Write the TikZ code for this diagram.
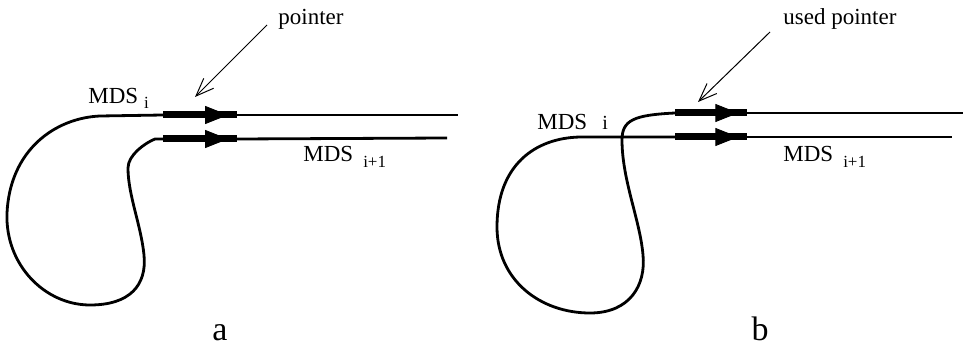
\documentclass[tikz,border=0pt]{standalone}
\usepackage{fontspec}
\setmainfont{Liberation Serif}
\usetikzlibrary{decorations.markings}
\usetikzlibrary{arrows.meta}

\newcommand{\lowsub}[2]{\raisebox{-#1}{\fontsize{8.5}{9}\selectfont #2}}

\begin{document}
\begin{tikzpicture}[x=0.5pt,y=-0.5pt,
  every node/.style={inner sep=0pt,font=\fontsize{11.5}{13}\selectfont},
  strand/.style={line width=1.4pt},
  bar/.style={line width=3.5pt,%
          decoration={%
            markings,%
            mark=at position 0.88 with {\arrow{Triangle[length=11.5pt,width=9pt,line width=0.4pt]}},%
          },%
          postaction=decorate},
  ptr/.style={line width=0.5pt,-{Straight Barb[length=9pt,width=7pt,line width=0.5pt]}},
  panel/.style={font=\fontsize{17}{19}\selectfont}]
\useasboundingbox (0,0) rectangle (967,347);

% a
\coordinate (a1s) at (163,115);
\coordinate (a1e) at (237,115);
\coordinate (a1r) at (458,115);
\coordinate (a2s) at (163,139);
\coordinate (a2e) at (237,139);
\coordinate (a2r) at (447,138);
\coordinate (pta) at (195,97);
\draw[strand] (a1s) -- (100,116)
   .. controls (55,118) and (10,150) .. (7,213)
   .. controls (5,265) and (45,305) .. (90,305)
   .. controls (130,305) and (147,285) .. (144,255)
   .. controls (141,225) and (128,195) .. (128,168)
   .. controls (128,155) and (145,143) .. (155,139) -- (a2s);
\draw[strand] (a1e) -- (a1r);
\draw[strand] (a2e) -- (a2r);
\path[draw,bar] (a1s) -- (a1e);
\path[draw,bar] (a2s) -- (a2e);
\node[anchor=base west] (pa) at (278,25) {pointer};
\draw[ptr] ([xshift=-5.5pt]pa.base west) -- (pta);
\node[anchor=base west] (mia) at (88,104) {MDS \lowsub{2.5pt}{i}};
\node[anchor=base west] (mja) at (303,162) {MDS\hspace{5pt}\lowsub{3pt}{i+1}};
\node[panel,anchor=base] (la) at (220,340) {a};

% b
\coordinate (b1s) at (675,113);
\coordinate (b1e) at (747,113);
\coordinate (b1r) at (963,113);
\coordinate (b2s) at (675,137);
\coordinate (b2e) at (747,137);
\coordinate (b2r) at (952,137);
\coordinate (ptb) at (698,102);
\draw[strand] (b2s) -- (580,137)
   .. controls (535,138) and (497,165) .. (497,227)
   .. controls (497,280) and (540,313) .. (590,313)
   .. controls (630,313) and (646,285) .. (643,255)
   .. controls (640,220) and (622,180) .. (622,140)
   .. controls (622,120) and (634,115) .. (b1s);
\draw[strand] (b1e) -- (b1r);
\draw[strand] (b2e) -- (b2r);
\path[draw,bar] (b1s) -- (b1e);
\path[draw,bar] (b2s) -- (b2e);
\node[anchor=base west] (pb) at (783,25) {used pointer};
\draw[ptr] ([xshift=-6.5pt,yshift=-3.5pt]pb.base west) -- (ptb);
\node[anchor=base west] (mib) at (537,130) {MDS\hspace{7.5pt}{\fontsize{10}{10}\selectfont i}};
\node[anchor=base west] (mjb) at (783,162) {MDS\hspace{5pt}\lowsub{3pt}{i+1}};
\node[panel,anchor=base] (lb) at (760,340) {b};
\end{tikzpicture}
\end{document}
